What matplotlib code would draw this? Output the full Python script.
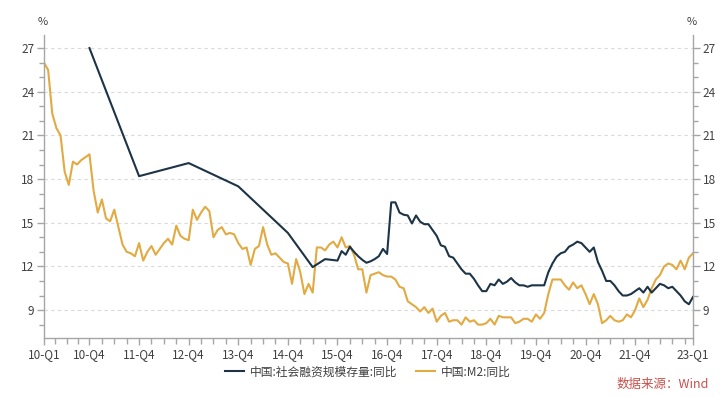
import numpy as np
import matplotlib
matplotlib.use("Agg")
import matplotlib.pyplot as plt
from matplotlib.ticker import FixedLocator

plt.rcParams['font.family'] = ['Noto Sans CJK SC', 'DejaVu Sans']

# ---------------- data ----------------
m2_start = "2010-01"
m2_values = [
    26.0, 25.5, 22.5, 21.5, 21.0, 18.5, 17.6, 19.2, 19.0, 19.3, 19.5, 19.7,   # 2010
    17.2, 15.7, 16.6, 15.3, 15.1, 15.9, 14.7, 13.5, 13.0, 12.9, 12.7, 13.6,   # 2011
    12.4, 13.0, 13.4, 12.8, 13.2, 13.6, 13.9, 13.5, 14.8, 14.1, 13.9, 13.8,   # 2012
    15.9, 15.2, 15.7, 16.1, 15.8, 14.0, 14.5, 14.7, 14.2, 14.3, 14.2, 13.6,   # 2013
    13.2, 13.3, 12.1, 13.2, 13.4, 14.7, 13.5, 12.8, 12.9, 12.6, 12.3, 12.2,   # 2014
    10.8, 12.5, 11.6, 10.1, 10.8, 10.2, 13.3, 13.3, 13.1, 13.5, 13.7, 13.3,   # 2015
    14.0, 13.3, 13.4, 12.8, 11.8, 11.8, 10.2, 11.4, 11.5, 11.6, 11.4, 11.3,   # 2016
    11.3, 11.1, 10.6, 10.5, 9.6, 9.4, 9.2, 8.9, 9.2, 8.8, 9.1, 8.2,           # 2017
    8.6, 8.8, 8.2, 8.3, 8.3, 8.0, 8.5, 8.2, 8.3, 8.0, 8.0, 8.1,               # 2018
    8.4, 8.0, 8.6, 8.5, 8.5, 8.5, 8.1, 8.2, 8.4, 8.4, 8.2, 8.7,               # 2019
    8.4, 8.8, 10.1, 11.1, 11.1, 11.1, 10.7, 10.4, 10.9, 10.5, 10.7, 10.1,     # 2020
    9.4, 10.1, 9.4, 8.1, 8.3, 8.6, 8.3, 8.2, 8.3, 8.7, 8.5, 9.0,              # 2021
    9.8, 9.2, 9.7, 10.5, 11.1, 11.4, 12.0, 12.2, 12.1, 11.8, 12.4, 11.8,      # 2022
    12.6, 12.9,                                                               # 2023
]

tsf_dates = [
    "2010-12", "2011-12", "2012-12", "2013-12", "2014-12",
    "2015-06", "2015-09", "2015-12",
    "2016-01", "2016-02", "2016-03", "2016-04", "2016-05", "2016-06",
    "2016-07", "2016-08", "2016-09", "2016-10", "2016-11", "2016-12",
    "2017-01", "2017-02", "2017-03", "2017-04", "2017-05", "2017-06",
    "2017-07", "2017-08", "2017-09", "2017-10", "2017-11", "2017-12",
    "2018-01", "2018-02", "2018-03", "2018-04", "2018-05", "2018-06",
    "2018-07", "2018-08", "2018-09", "2018-10", "2018-11", "2018-12",
    "2019-01", "2019-02", "2019-03", "2019-04", "2019-05", "2019-06",
    "2019-07", "2019-08", "2019-09", "2019-10", "2019-11", "2019-12",
    "2020-01", "2020-02", "2020-03", "2020-04", "2020-05", "2020-06",
    "2020-07", "2020-08", "2020-09", "2020-10", "2020-11", "2020-12",
    "2021-01", "2021-02", "2021-03", "2021-04", "2021-05", "2021-06",
    "2021-07", "2021-08", "2021-09", "2021-10", "2021-11", "2021-12",
    "2022-01", "2022-02", "2022-03", "2022-04", "2022-05", "2022-06",
    "2022-07", "2022-08", "2022-09", "2022-10", "2022-11", "2022-12",
    "2023-01", "2023-02",
]
tsf_values = [
    27.0, 18.2, 19.1, 17.5, 14.3,
    11.95, 12.5, 12.4,
    13.05, 12.8, 13.35, 13.0, 12.7, 12.45,
    12.25, 12.35, 12.5, 12.7, 13.2, 12.85,
    16.4, 16.4, 15.7, 15.55, 15.5, 14.95,
    15.5, 15.07, 14.9, 14.9, 14.5, 14.1,
    13.45, 13.35, 12.7, 12.6, 12.2, 11.8,
    11.5, 11.5, 11.15, 10.7, 10.3, 10.3,
    10.8, 10.7, 11.1, 10.8, 10.95, 11.2,
    10.9, 10.7, 10.7, 10.6, 10.7, 10.7,
    10.7, 10.7, 11.6, 12.2, 12.66, 12.9,
    13.0, 13.35, 13.5, 13.7, 13.6, 13.3,
    13.0, 13.3, 12.3, 11.7, 11.0, 11.0,
    10.7, 10.3, 10.0, 10.0, 10.1, 10.3,
    10.5, 10.2, 10.6, 10.2, 10.5, 10.8,
    10.7, 10.5, 10.6, 10.3, 10.0, 9.6,
    9.4, 9.9,
]

x_tick_labels = ["10-Q1", "10-Q4", "11-Q4", "12-Q4", "13-Q4", "14-Q4", "15-Q4",
                 "16-Q4", "17-Q4", "18-Q4", "19-Q4", "20-Q4", "21-Q4", "23-Q1"]
x_tick_dates = ["2010-01", "2010-12", "2011-12", "2012-12", "2013-12", "2014-12",
                "2015-12", "2016-12", "2017-12", "2018-12", "2019-12", "2020-12",
                "2021-12", "2023-02"]

y_ticks = [9, 12, 15, 18, 21, 24, 27]

series_names = ["中国:社会融资规模存量:同比", "中国:M2:同比"]
colors = ["#1c3446", "#e2aa42"]


def midx(s):
    y, m = map(int, s.split("-"))
    return (y - 2010) * 12 + (m - 1)


# ---------------- figure ----------------
fig = plt.figure(figsize=(7.2, 3.97), dpi=100)
ax = fig.add_axes([44 / 720, 1 - 338 / 397, (693 - 44) / 720, (338 - 35) / 397])

m2_x = np.arange(len(m2_values)) + midx(m2_start)
tsf_x = np.array([midx(d) for d in tsf_dates])

ax.plot(tsf_x, tsf_values, color=colors[0], lw=1.5, label=series_names[0], zorder=3)
ax.plot(m2_x, m2_values, color=colors[1], lw=1.5, label=series_names[1], zorder=2)

x_end = midx(x_tick_dates[-1])
ax.set_xlim(0, x_end)
ax.set_ylim(7.08, 27.9)

# grid
for yv in y_ticks:
    ax.axhline(yv, color="#d9d9d9", lw=0.8, ls=(0, (3, 3)), zorder=1)

# spines
for s in ["top"]:
    ax.spines[s].set_visible(False)
for s in ["left", "right", "bottom"]:
    ax.spines[s].set_color("#a6a6a6")
    ax.spines[s].set_linewidth(1.0)

# y ticks
ax.yaxis.set_major_locator(FixedLocator(y_ticks))
ax.yaxis.set_minor_locator(FixedLocator([v for v in range(8, 28) if v not in y_ticks]))
ax.tick_params(axis="y", which="both", left=True, right=True, labelleft=True,
               labelright=True, direction="out", colors="#a6a6a6",
               labelcolor="#404040", labelsize=8.5, pad=2)
ax.tick_params(axis="y", which="major", length=5, width=1)
ax.tick_params(axis="y", which="minor", length=3.5, width=1)

# x ticks
major_x = [midx(d) for d in x_tick_dates]
ax.xaxis.set_major_locator(FixedLocator(major_x))
ax.set_xticklabels(x_tick_labels)
minor_x = list(np.linspace(0, 11, 5)[1:-1])
k = 11 + 3
while k < x_end:
    if k not in major_x:
        minor_x.append(k)
    k += 3
ax.xaxis.set_minor_locator(FixedLocator(minor_x))
ax.tick_params(axis="x", which="both", direction="out", colors="#a6a6a6",
               labelcolor="#404040", labelsize=8.5, pad=2)
ax.tick_params(axis="x", which="major", length=5, width=1)
ax.tick_params(axis="x", which="minor", length=4, width=1)

# % labels
fig.text(43 / 720, 1 - 22 / 397, "%", ha="center", va="center", fontsize=8, color="#404040")
fig.text(692 / 720, 1 - 22 / 397, "%", ha="center", va="center", fontsize=8, color="#404040")

# legend
fig.legend(loc="center", bbox_to_anchor=(368 / 720, 1 - 372 / 397), ncol=2,
           frameon=False, fontsize=8.5, handlelength=1.6, handletextpad=0.5,
           columnspacing=1.6, labelcolor="#404040")

# source
fig.text(709 / 720, 1 - 384 / 397, "数据来源：Wind", ha="right", va="center",
         fontsize=9, color="#c9504b")

fig.savefig("out.png", dpi=100)
